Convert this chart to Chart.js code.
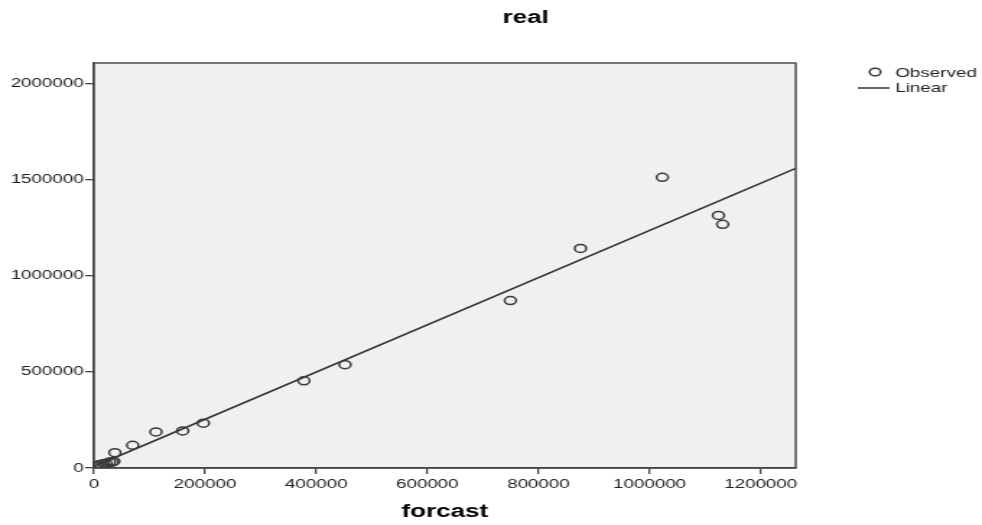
<!DOCTYPE html>
<html>
<head>
<meta charset="utf-8">
<script src="https://cdn.jsdelivr.net/npm/chart.js@4/dist/chart.umd.min.js"></script>
<style>
html,body{margin:0;padding:0;background:#fff;overflow:hidden;}
#wrap{width:680px;height:525px;transform:scaleX(1.4441);transform-origin:0 0;}
canvas{display:block;}
</style>
</head>
<body>
<div id="wrap"><canvas id="c" width="680" height="525" style="width:680px;height:525px"></canvas></div>
<script>
// Observed points (forcast, real)
const observedX = [1023000, 875700, 1124000, 1131500, 749500, 452000, 378000, 197000, 159800, 111700, 69700, 37800, 36000, 33000, 28000, 22000, 17000, 12000, 7000, 3000];
const observedY = [1511000, 1141000, 1313000, 1266500, 870400, 537000, 453000, 233000, 192800, 187600, 118300, 79700, 35000, 30000, 31000, 25000, 22000, 18000, 15000, 8000];
// Linear fit line endpoints
const linearX = [0, 1263000];
const linearY = [8000, 1557000];
// Axis ticks
const xTicks = [0, 200000, 400000, 600000, 800000, 1000000, 1200000];
const yTicks = [0, 500000, 1000000, 1500000, 2000000];
const xMax = 1263000;
const yMax = 2105000;
const chartTitle = 'real';
const xTitle = 'forcast';
const legendLabels = ['Observed', 'Linear'];

const FONT = '"Liberation Sans", Arial, sans-serif';

const observedData = observedX.map((x, i) => ({x: x, y: observedY[i]}));
const linearData = linearX.map((x, i) => ({x: x, y: linearY[i]}));

const framePlugin = {
  id: 'frame',
  beforeDraw(chart) {
    const {ctx, chartArea: a} = chart;
    ctx.save();
    ctx.fillStyle = '#ffffff';
    ctx.fillRect(0, 0, chart.width, chart.height);
    ctx.fillStyle = '#f0f0f0';
    ctx.fillRect(a.left, a.top, a.right - a.left, a.bottom - a.top);
    ctx.restore();
  },
  afterDraw(chart) {
    const {ctx, chartArea: a} = chart;
    ctx.save();
    ctx.strokeStyle = '#444';
    ctx.lineWidth = 1.4;
    ctx.strokeRect(a.left, a.top, a.right - a.left, a.bottom - a.top);
    // title
    ctx.fillStyle = '#000';
    ctx.font = 'bold 18px ' + FONT;
    ctx.textAlign = 'center';
    ctx.textBaseline = 'middle';
    ctx.fillText(chartTitle, 364, 18);
    // legend
    ctx.font = '13px ' + FONT;
    ctx.textAlign = 'left';
    ctx.fillStyle = '#222';
    ctx.strokeStyle = '#333';
    ctx.lineWidth = 1.4;
    ctx.beginPath();
    ctx.arc(606, 72, 3.8, 0, Math.PI * 2);
    ctx.stroke();
    ctx.fillText(legendLabels[0], 620, 73);
    ctx.lineWidth = 1.5;
    ctx.beginPath();
    ctx.moveTo(594, 88);
    ctx.lineTo(616, 88);
    ctx.stroke();
    ctx.fillText(legendLabels[1], 620, 88.5);
    ctx.restore();
  }
};

new Chart(document.getElementById('c'), {
  type: 'scatter',
  data: {
    datasets: [
      {
        label: legendLabels[0],
        data: observedData,
        pointStyle: 'circle',
        pointRadius: 4,
        pointBorderWidth: 1.5,
        pointBorderColor: '#3a3a3a',
        pointBackgroundColor: 'rgba(0,0,0,0)',
        showLine: false,
        order: 1
      },
      {
        label: legendLabels[1],
        data: linearData,
        showLine: true,
        borderColor: '#333',
        borderWidth: 1.6,
        pointRadius: 0,
        fill: false,
        order: 2
      }
    ]
  },
  options: {
    responsive: false,
    animation: false,
    devicePixelRatio: 1,
    layout: {padding: {top: 63, right: 129, left: 0, bottom: 0}},
    plugins: {legend: {display: false}, tooltip: {enabled: false}, title: {display: false}},
    scales: {
      x: {
        type: 'linear',
        min: 0,
        max: xMax,
        afterBuildTicks(s) { s.ticks = xTicks.map(v => ({value: v})); },
        afterFit(s) { s.height = 57; },
        grid: {display: true, drawOnChartArea: false, drawTicks: true, tickLength: 6, color: '#444', lineWidth: 1.3},
        border: {display: true, color: '#444', width: 1.4},
        ticks: {
          color: '#222',
          font: {family: FONT, size: 13},
          padding: 3,
          maxRotation: 0,
          autoSkip: false,
          callback: v => String(v)
        },
        title: {display: true, text: xTitle, color: '#000', font: {family: FONT, size: 18, weight: 'bold'}, padding: {top: 0, bottom: 2}}
      },
      y: {
        type: 'linear',
        min: 0,
        max: yMax,
        afterBuildTicks(s) { s.ticks = yTicks.map(v => ({value: v})); },
        afterFit(s) { s.width = 65; },
        grid: {display: true, drawOnChartArea: false, drawTicks: true, tickLength: 6, color: '#444', lineWidth: 1.3},
        border: {display: true, color: '#444', width: 1.4},
        ticks: {
          color: '#222',
          font: {family: FONT, size: 13},
          padding: 1,
          autoSkip: false,
          callback: v => String(v)
        }
      }
    }
  },
  plugins: [framePlugin]
});
</script>
</body>
</html>
